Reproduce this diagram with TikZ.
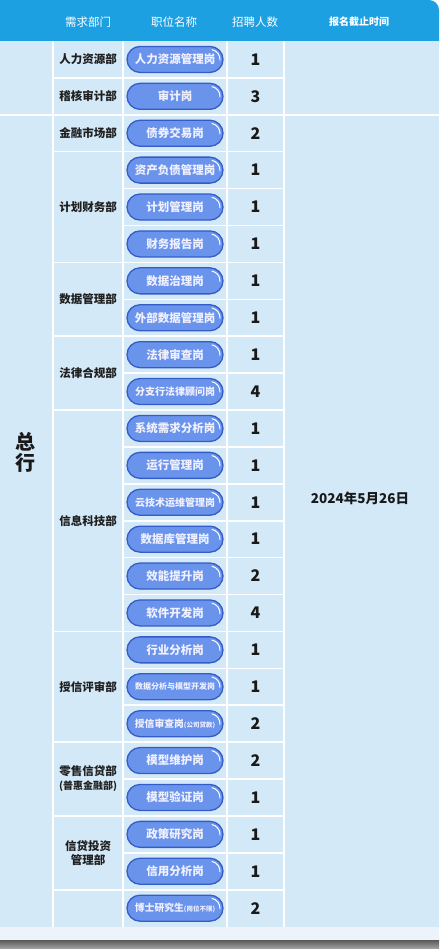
\documentclass[tikz,border=0pt]{standalone}
\usepackage{fontspec}
\setmainfont{Noto Sans CJK SC}
\definecolor{bleuentete}{RGB}{28,160,226}
\definecolor{bleufond}{RGB}{212,233,248}
\definecolor{bleupilule}{RGB}{106,148,236}
\definecolor{bordpilule}{RGB}{52,92,200}
\definecolor{fondbas}{RGB}{236,243,250}
\begin{document}
\begin{tikzpicture}[x=1pt,y=-1pt,
	grille/.style={white,line width=1.6pt},
	titre/.style={text=white,font=\fontsize{11.5}{12}\selectfont},
	service/.style={text=black!88,align=center,font=\fontsize{11.5}{14}\selectfont\bfseries},
	nombre/.style={text=black!90,font=\fontsize{16}{16}\selectfont\bfseries},
	poste/.style={draw=bordpilule,line width=1.3pt,fill=bleupilule,rounded corners=13pt,
		minimum width=96pt,minimum height=26pt,inner sep=0pt,text=white!94!blue,
		font=\fontsize{11.5}{12}\selectfont\bfseries,
		path picture={\draw[white,line width=1pt]
			([xshift=-13pt,yshift=-13pt]path picture bounding box.north east) ++(80:10pt)
			arc[start angle=80,end angle=-5,radius=10pt];}}]
	\useasboundingbox (0,0) rectangle (439,949);
%	Fond du tableau :
	\fill[bleufond] (0,41) rectangle (439,926.6);
	\fill[fondbas] (0,926.6) rectangle (439,940);
	\shade[top color=black!65,bottom color=black!35] (0,940) rectangle (439,949);
%	Bandeau du titre :
	\fill[bleuentete] (0,41) -- (0,0) [rounded corners=10pt] -- (439,0) [sharp corners] -- (439,41) -- cycle;
	\node[titre] (h1) at (88,22) {需求部门};
	\node[titre] (h2) at (174,22) {职位名称};
	\node[titre] (h3) at (255,22) {招聘人数};
	\node[titre,font=\fontsize{10}{10}\selectfont\bfseries] (h4) at (359,22) {报名截止时间};
	\begin{scope}[yshift=-41pt,y=-36.9pt]
%	Tracé de la grille :
	\draw[grille] (53,0) -- (53,24);
	\draw[grille] (123,0) -- (123,24);
	\draw[grille] (227,0) -- (227,24);
	\draw[grille] (284,0) -- (284,24);
	\foreach \k in {1,...,23}
		\draw[grille] (123,\k) -- (284,\k);
	\foreach \k in {1,2,3,6,8,10,16,19,21,23}
		\draw[grille] (53,\k) -- (123,\k);
	\draw[grille] (0,2) -- (53,2);
	\draw[grille] (284,2) -- (439,2);
%	Colonnes fusionnées :
	\node[font=\fontsize{20}{21}\selectfont\bfseries,align=center,text=black!90] (zh) at (26,11.14) {总\\行};
	\node[font=\fontsize{13.5}{14}\selectfont\bfseries,text=black!90] (date) at (360,12.4) {2024年5月26日};
%	Services :
	\node[service] (s1) at (88,0.5) {人力资源部};
	\node[service] (s2) at (88,1.5) {稽核审计部};
	\node[service] (s3) at (88,2.5) {金融市场部};
	\node[service] (s4) at (88,4.5) {计划财务部};
	\node[service] (s5) at (88,7) {数据管理部};
	\node[service] (s6) at (88,9) {法律合规部};
	\node[service] (s7) at (88,13) {信息科技部};
	\node[service] (s8) at (88,17.5) {授信评审部};
	\node[service] (s9) at (88,20) {零售信贷部\\{\fontsize{10}{12}\selectfont(普惠金融部)}};
	\node[service] (s10) at (88,22) {信贷投资\\管理部};
%	Postes :
	\node[poste] (p1) at (175,0.5) {人力资源管理岗};
	\node[poste] (p2) at (175,1.5) {审计岗};
	\node[poste] (p3) at (175,2.5) {债券交易岗};
	\node[poste] (p4) at (175,3.5) {资产负债管理岗};
	\node[poste] (p5) at (175,4.5) {计划管理岗};
	\node[poste] (p6) at (175,5.5) {财务报告岗};
	\node[poste] (p7) at (175,6.5) {数据治理岗};
	\node[poste] (p8) at (175,7.5) {外部数据管理岗};
	\node[poste] (p9) at (175,8.5) {法律审查岗};
	\node[poste,font=\fontsize{10}{10}\selectfont\bfseries] (p10) at (175,9.5) {分支行法律顾问岗};
	\node[poste] (p11) at (175,10.5) {系统需求分析岗};
	\node[poste] (p12) at (175,11.5) {运行管理岗};
	\node[poste,font=\fontsize{10}{10}\selectfont\bfseries] (p13) at (175,12.5) {云技术运维管理岗};
	\node[poste] (p14) at (175,13.5) {数据库管理岗};
	\node[poste] (p15) at (175,14.5) {效能提升岗};
	\node[poste] (p16) at (175,15.5) {软件开发岗};
	\node[poste] (p17) at (175,16.5) {行业分析岗};
	\node[poste,font=\fontsize{8}{8}\selectfont\bfseries] (p18) at (175,17.5) {数据分析与模型开发岗};
	\node[poste,font=\fontsize{9.8}{10}\selectfont\bfseries] (p19) at (175,18.5) {授信审查岗{\fontsize{6.5}{7}\selectfont(公司贷款)}};
	\node[poste] (p20) at (175,19.5) {模型维护岗};
	\node[poste] (p21) at (175,20.5) {模型验证岗};
	\node[poste] (p22) at (175,21.5) {政策研究岗};
	\node[poste] (p23) at (175,22.5) {信用分析岗};
	\node[poste,font=\fontsize{9.8}{10}\selectfont\bfseries] (p24) at (175,23.5) {博士研究生{\fontsize{6.5}{7}\selectfont(岗位不限)}};
%	Nombres :
	\node[nombre] (n1) at (255.5,0.5) {1};
	\node[nombre] (n2) at (255.5,1.5) {3};
	\node[nombre] (n3) at (255.5,2.5) {2};
	\node[nombre] (n4) at (255.5,3.5) {1};
	\node[nombre] (n5) at (255.5,4.5) {1};
	\node[nombre] (n6) at (255.5,5.5) {1};
	\node[nombre] (n7) at (255.5,6.5) {1};
	\node[nombre] (n8) at (255.5,7.5) {1};
	\node[nombre] (n9) at (255.5,8.5) {1};
	\node[nombre] (n10) at (255.5,9.5) {4};
	\node[nombre] (n11) at (255.5,10.5) {1};
	\node[nombre] (n12) at (255.5,11.5) {1};
	\node[nombre] (n13) at (255.5,12.5) {1};
	\node[nombre] (n14) at (255.5,13.5) {1};
	\node[nombre] (n15) at (255.5,14.5) {2};
	\node[nombre] (n16) at (255.5,15.5) {4};
	\node[nombre] (n17) at (255.5,16.5) {1};
	\node[nombre] (n18) at (255.5,17.5) {1};
	\node[nombre] (n19) at (255.5,18.5) {2};
	\node[nombre] (n20) at (255.5,19.5) {2};
	\node[nombre] (n21) at (255.5,20.5) {1};
	\node[nombre] (n22) at (255.5,21.5) {1};
	\node[nombre] (n23) at (255.5,22.5) {1};
	\node[nombre] (n24) at (255.5,23.5) {2};
	\end{scope}
\end{tikzpicture}
\end{document}
